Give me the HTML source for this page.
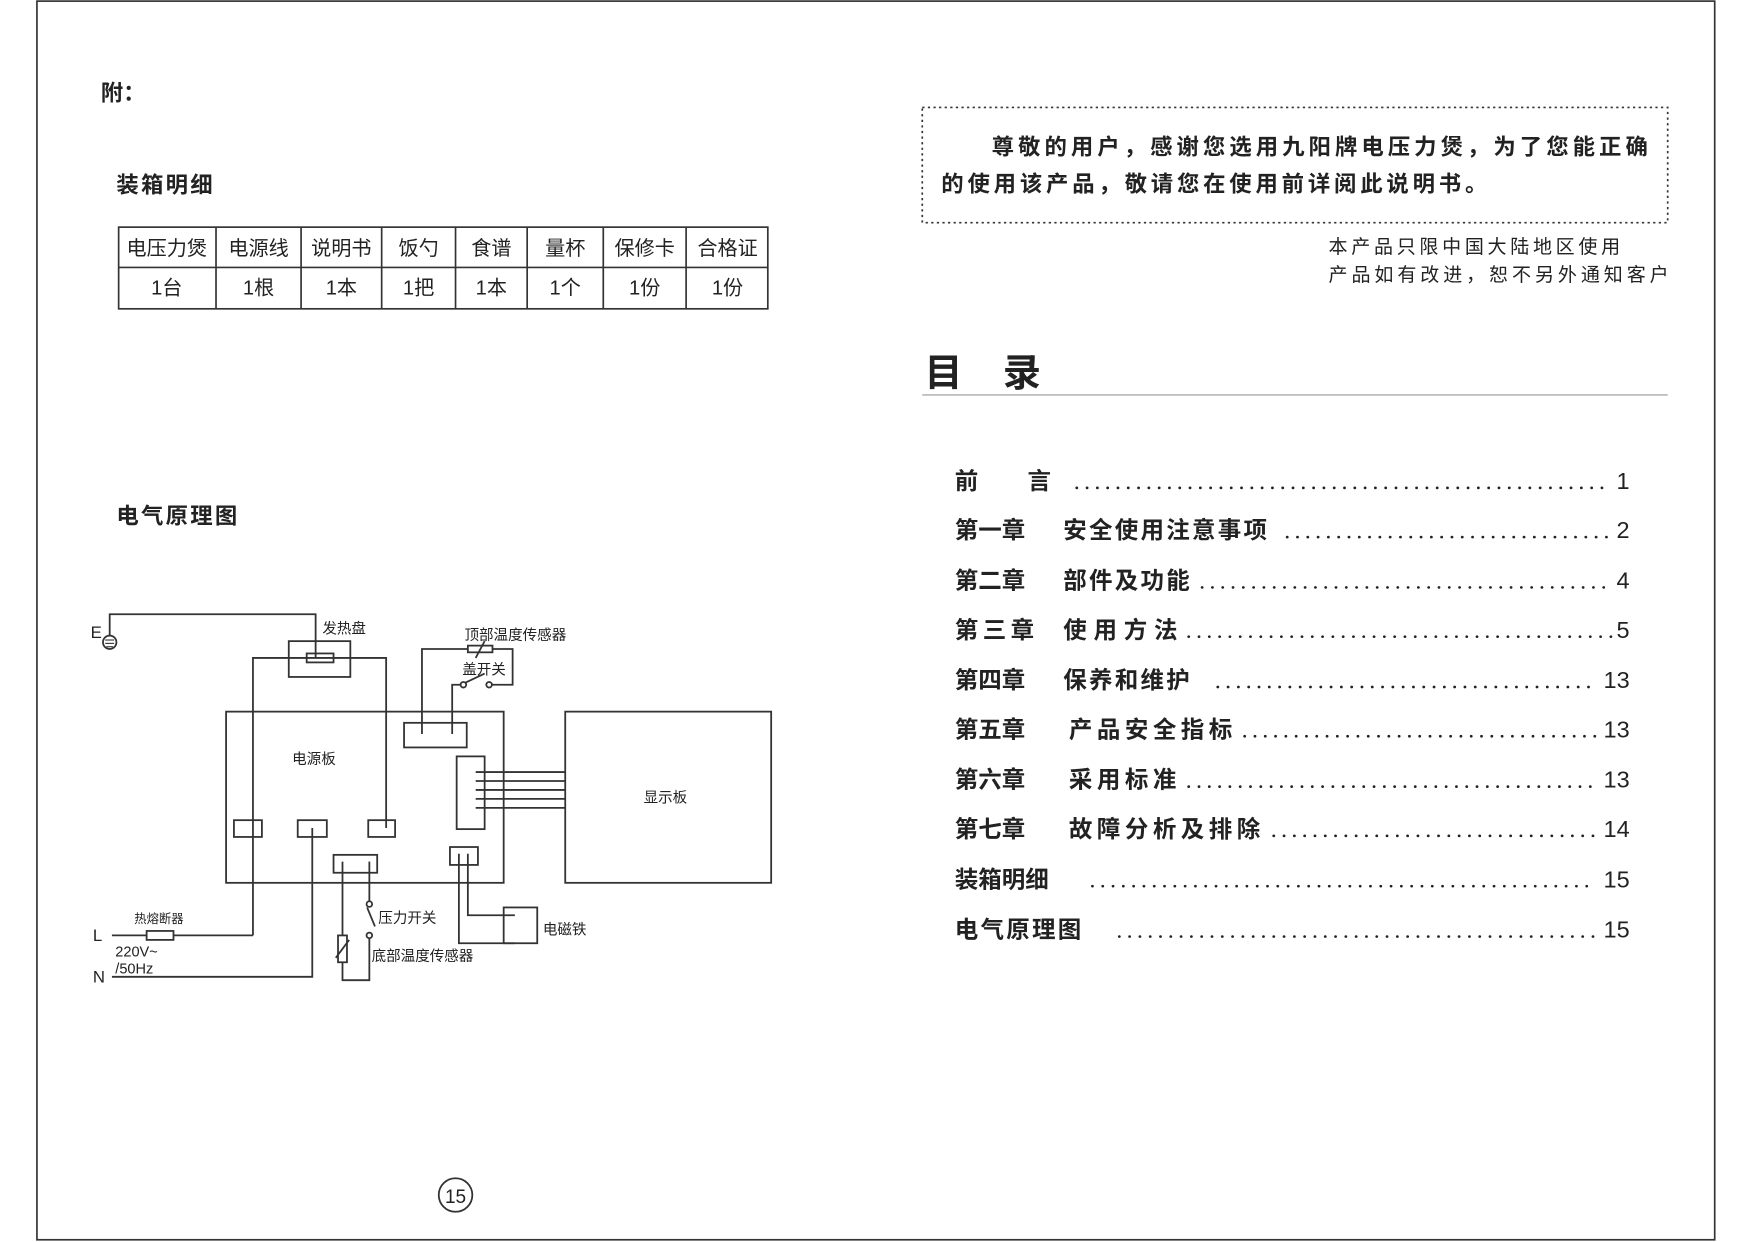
<!DOCTYPE html>
<html><head><meta charset="utf-8"><style>
html,body{margin:0;padding:0;background:#fff;}
svg{display:block;}
text{font-family:"Liberation Sans","Noto Sans CJK SC",sans-serif;fill:#222;}
</style></head><body>
<svg width="1755" height="1242" viewBox="0 0 1568 1110" preserveAspectRatio="none" xmlns="http://www.w3.org/2000/svg">
<rect x="33" y="1" width="1499" height="1107" fill="none" stroke="#333" stroke-width="1.5"/>
<text x="90" y="90" font-size="20" font-weight="bold">附：</text>
<text x="104" y="172" font-size="20" font-weight="bold" letter-spacing="2">装箱明细</text>
<g stroke="#333" stroke-width="1.5" fill="none">
<rect x="106" y="203" width="580" height="73"/>
<line x1="106" y1="239" x2="686" y2="239"/>
<line x1="193" y1="203" x2="193" y2="276"/><line x1="269" y1="203" x2="269" y2="276"/>
<line x1="341" y1="203" x2="341" y2="276"/><line x1="407" y1="203" x2="407" y2="276"/>
<line x1="471" y1="203" x2="471" y2="276"/><line x1="539" y1="203" x2="539" y2="276"/>
<line x1="613" y1="203" x2="613" y2="276"/>
</g>
<g font-size="18" text-anchor="middle">
<text x="149" y="228">电压力煲</text><text x="231" y="228">电源线</text><text x="305" y="228">说明书</text><text x="374" y="228">饭勺</text><text x="439" y="228">食谱</text><text x="505" y="228">量杯</text><text x="576" y="228">保修卡</text><text x="650" y="228">合格证</text>
<text x="149" y="263">1台</text><text x="231" y="263">1根</text><text x="305" y="263">1本</text><text x="374" y="263">1把</text><text x="439" y="263">1本</text><text x="505" y="263">1个</text><text x="576" y="263">1份</text><text x="650" y="263">1份</text>
</g>
<text x="104" y="468" font-size="20" font-weight="bold" letter-spacing="2">电气原理图</text>

<g stroke="#333" stroke-width="1.6" fill="none">
<polyline points="98,568 98,549 282,549 282,588"/>
<circle cx="98" cy="574" r="6"/>
<rect x="258" y="573" width="55" height="32"/>
<rect x="274" y="584" width="24" height="8"/>
<polyline points="226,836 226,588 345,588 345,740"/>
<rect x="202" y="636" width="248" height="153"/>
<rect x="209" y="733" width="25" height="15"/>
<rect x="266" y="733" width="26" height="15"/>
<rect x="329" y="733" width="24" height="15"/>
<rect x="361" y="646" width="56" height="22"/>
<polyline points="377,656 377,580 458,580 458,612 440,612"/>
<rect x="418" y="577" width="22" height="6" fill="#fff"/>
<line x1="425" y1="588" x2="433" y2="573"/>
<circle cx="437" cy="612" r="2.5"/><circle cx="414" cy="612" r="2.5"/>
<line x1="416" y1="610" x2="433" y2="602"/>
<polyline points="412,612 404,612 404,656"/>
<rect x="408" y="676" width="25" height="65"/>
<line x1="425" y1="690" x2="505" y2="690"/><line x1="425" y1="698" x2="505" y2="698"/>
<line x1="425" y1="706" x2="505" y2="706"/><line x1="425" y1="714" x2="505" y2="714"/>
<line x1="425" y1="722" x2="505" y2="722"/>
<rect x="505" y="636" width="184" height="153"/>
<rect x="298" y="764" width="39" height="16"/>
<polyline points="306,770 306,876 330,876 330,838"/>
<rect x="302" y="836" width="8" height="24" fill="#fff"/>
<line x1="300" y1="856" x2="312" y2="840"/>
<polyline points="330,770 330,805"/>
<circle cx="330" cy="808" r="2.5"/><circle cx="330" cy="836" r="2.5"/>
<line x1="328" y1="811" x2="335" y2="828"/>
<rect x="402" y="757" width="25" height="16"/>
<polyline points="410,763 410,843 460,843"/>
<polyline points="418,763 418,818 460,818"/>
<rect x="450" y="811" width="30" height="32"/>
<line x1="100" y1="836" x2="226" y2="836"/>
<rect x="131" y="832" width="24" height="8" fill="#fff"/>
<polyline points="100,873 279,873 279,740"/>
<circle cx="407" cy="1068" r="15"/>
</g>
<g stroke="#333" stroke-width="1"><line x1="94" y1="572" x2="102" y2="572"/><line x1="94" y1="575" x2="102" y2="575"/><line x1="95" y1="578" x2="101" y2="578"/></g>
<g font-size="13">
<text x="81" y="570" font-size="15">E</text>
<text x="288" y="566">发热盘</text>
<text x="415" y="572">顶部温度传感器</text>
<text x="413" y="603">盖开关</text>
<text x="261" y="683">电源板</text>
<text x="575" y="717">显示板</text>
<text x="338" y="825">压力开关</text>
<text x="332" y="859">底部温度传感器</text>
<text x="485" y="835">电磁铁</text>
<text x="120" y="825" font-size="11">热熔断器</text>
<text x="83" y="841" font-size="15">L</text>
<text x="83" y="878" font-size="15">N</text>
<text x="103" y="855" font-size="13" font-family="Liberation Mono">220V~</text>
<text x="103" y="870" font-size="13" font-family="Liberation Mono">/50Hz</text>
</g>
<text x="407" y="1075" font-size="17" text-anchor="middle">15</text>

<rect x="824" y="96" width="666" height="103" fill="none" stroke="#333" stroke-width="1.5" stroke-dasharray="2 3"/>
<text x="886" y="138" font-size="20" font-weight="bold" letter-spacing="3.6">尊敬的用户，感谢您选用九阳牌电压力煲，为了您能正确</text>
<text x="841" y="171" font-size="20" font-weight="bold" letter-spacing="3.4">的使用该产品，敬请您在使用前详阅此说明书。</text>
<text x="1187" y="226" font-size="17" letter-spacing="3.3">本产品只限中国大陆地区使用</text>
<text x="1187" y="251" font-size="17" letter-spacing="3.5">产品如有改进，恕不另外通知客户</text>
<text x="826" y="345" font-size="34" font-weight="bold">目</text>
<text x="896" y="345" font-size="34" font-weight="bold">录</text>
<line x1="824" y1="353" x2="1490" y2="353" stroke="#aaa" stroke-width="1.2"/>

<g font-size="21" font-weight="bold">
<text x="853" y="437">前</text><text x="918" y="437">言</text>
<text x="853" y="481">第一章</text><text x="950" y="481" letter-spacing="2">安全使用注意事项</text>
<text x="853" y="526">第二章</text><text x="950" y="526" letter-spacing="2">部件及功能</text>
<text x="853" y="570" letter-spacing="4">第三章</text><text x="950" y="570" letter-spacing="6">使用方法</text>
<text x="853" y="615">第四章</text><text x="950" y="615" letter-spacing="2">保养和维护</text>
<text x="853" y="659">第五章</text><text x="955" y="659" letter-spacing="4">产品安全指标</text>
<text x="853" y="704">第六章</text><text x="955" y="704" letter-spacing="4">采用标准</text>
<text x="853" y="748">第七章</text><text x="955" y="748" letter-spacing="4">故障分析及排除</text>
<text x="853" y="793">装箱明细</text>
<text x="853" y="838" letter-spacing="2">电气原理图</text>
</g>
<g font-size="21" text-anchor="end">
<text x="1456" y="437">1</text><text x="1456" y="481">2</text><text x="1456" y="526">4</text><text x="1456" y="570">5</text>
<text x="1456" y="615">13</text><text x="1456" y="659">13</text><text x="1456" y="704">13</text><text x="1456" y="748">14</text>
<text x="1456" y="793">15</text><text x="1456" y="838">15</text>
</g>
<g stroke="#222" stroke-width="2.4" stroke-linecap="round" stroke-dasharray="0.1 9.1">
<line x1="962" y1="436" x2="1440" y2="436"/>
<line x1="1150" y1="480" x2="1440" y2="480"/>
<line x1="1074" y1="525" x2="1440" y2="525"/>
<line x1="1062" y1="569" x2="1440" y2="569"/>
<line x1="1088" y1="614" x2="1426" y2="614"/>
<line x1="1112" y1="658" x2="1426" y2="658"/>
<line x1="1062" y1="703" x2="1426" y2="703"/>
<line x1="1138" y1="747" x2="1426" y2="747"/>
<line x1="976" y1="792" x2="1426" y2="792"/>
<line x1="1000" y1="837" x2="1426" y2="837"/>
</g>
</svg>
</body></html>
